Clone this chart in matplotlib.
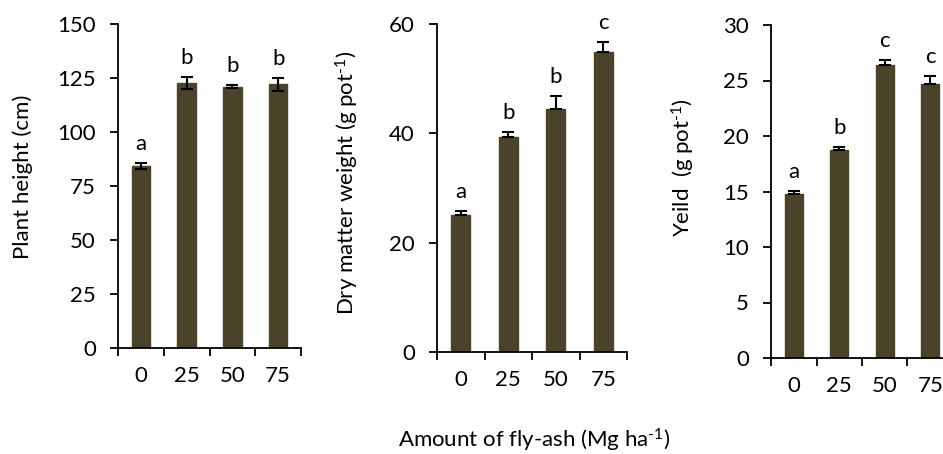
import matplotlib
matplotlib.use('Agg')
import matplotlib.pyplot as plt
import numpy as np

plt.rcParams['font.family'] = ['Lato', 'DejaVu Sans']
plt.rcParams['mathtext.fontset'] = 'custom'
plt.rcParams['mathtext.rm'] = 'Lato'
plt.rcParams['mathtext.default'] = 'regular'

# Fly-ash doses (Mg ha-1)
doses = ['0', '25', '50', '75']

# Plant height (cm)
height_mean = [84.3, 122.6, 121.0, 122.1]
height_err = [1.2, 2.9, 0.8, 3.0]
height_letters = ['a', 'b', 'b', 'b']

# Dry matter weight (g pot-1)
dry_mean = [25.0, 39.3, 44.4, 54.9]
dry_err = [0.8, 0.9, 2.4, 1.8]
dry_letters = ['a', 'b', 'b', 'c']

# Yield (g pot-1)
yield_mean = [14.8, 18.7, 26.4, 24.7]
yield_err = [0.25, 0.3, 0.45, 0.7]
yield_letters = ['a', 'b', 'c', 'c']

bar_color = '#4a4329'
fs = 16
W, H = 943, 454

fig = plt.figure(figsize=(W / 100, H / 100), dpi=100)


def px_axes(left, right, bottom, top):
    return fig.add_axes([left / W, (H - bottom) / H, (right - left) / W, (bottom - top) / H])


sup = '$^{\\text{-1}}$'
panels = [
    # axes box in pixels, data, y settings, label, label coords
    (px_axes(118, 301, 348, 24), height_mean, height_err, height_letters, True,
     150, 25, 'Plant height (cm)', (-0.52, 0.528)),
    (px_axes(437, 627, 352, 24), dry_mean, dry_err, dry_letters, False,
     60, 20, 'Dry matter weight (g pot' + sup + ')', (-0.47, 0.515)),
    (px_axes(771, 953, 358, 25), yield_mean, yield_err, yield_letters, False,
     30, 5, 'Yeild  (g pot' + sup + ')', (-0.48, 0.571)),
]

ind = np.arange(len(doses))
for ax, mean, err, letters, both, ymax, ystep, ylabel, lc in panels:
    ax.bar(ind, mean, 0.4, color=bar_color, edgecolor=bar_color, zorder=2)
    lower = err if both else [0] * len(err)
    ax.errorbar(ind, mean, yerr=[lower, err], fmt='none', ecolor='black',
                elinewidth=1.5, capsize=4, capthick=1.5, zorder=3)
    for i in range(len(doses)):
        ax.annotate(letters[i], (ind[i], mean[i] + err[i]), xytext=(0, 9.5),
                    textcoords='offset points', ha='center', va='baseline',
                    fontsize=fs)

    ax.set_xlim(-0.5, len(doses) - 0.5)
    ax.set_ylim(0, ymax)
    ax.set_yticks(np.arange(0, ymax + 0.1, ystep))
    ax.set_xticks(np.arange(-0.5, len(doses), 1.0))
    ax.set_xticklabels([])
    ax.set_xticks(ind, minor=True)
    ax.set_xticklabels(doses, minor=True)
    ax.tick_params(axis='x', which='major', direction='out', length=6, width=1.3)
    ax.tick_params(axis='x', which='minor', length=0, pad=13, labelsize=fs)
    ax.tick_params(axis='y', direction='out', length=6, width=1.3, pad=10, labelsize=fs)

    for s in ['top', 'right']:
        ax.spines[s].set_visible(False)
    for s in ['left', 'bottom']:
        ax.spines[s].set_linewidth(1.3)

    ax.set_ylabel(ylabel, fontsize=fs, va='center')
    ax.yaxis.set_label_coords(*lc)

fig.text(534 / W, 1 - 440 / H, 'Amount of fly-ash (Mg ha' + sup + ')', ha='center',
         va='center', fontsize=fs)

fig.savefig('out.png', dpi=100)
